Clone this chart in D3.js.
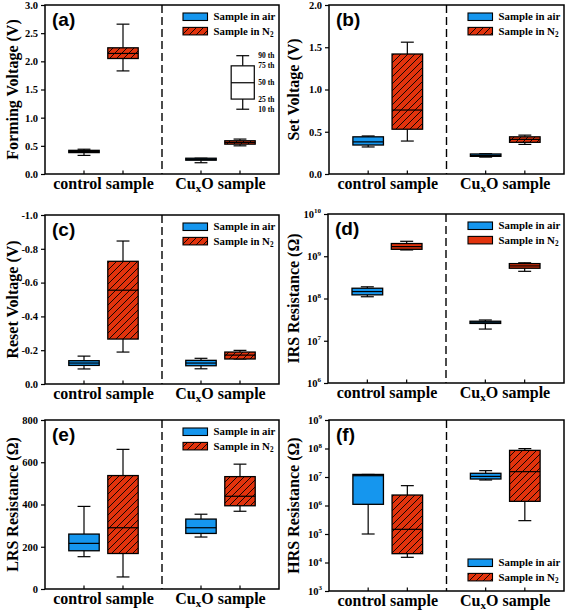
<!DOCTYPE html>
<html><head><meta charset="utf-8">
<script src="https://cdn.jsdelivr.net/npm/d3@7"></script>
<style>body{margin:0;background:#fff}</style>
</head><body>
<svg id="chart" width="567" height="612"></svg>
<script>
const categories = ["control sample", "CuxO sample"];
const seriesNames = ["Sample in air", "Sample in N2"];
// each entry: [lowerWhisker, q1, median, q3, upperWhisker]
const formingAir = [[0.33,0.38,0.40,0.42,0.44],[0.20,0.245,0.26,0.28,0.28]];
const formingN2  = [[1.83,2.05,2.14,2.24,2.66],[0.50,0.53,0.56,0.59,0.62]];
const setAir = [[0.32,0.343,0.38,0.44,0.45],[0.20,0.209,0.22,0.237,0.24]];
const setN2  = [[0.39,0.53,0.757,1.42,1.56],[0.35,0.375,0.41,0.44,0.46]];
const resetAir = [[-0.089,-0.110,-0.124,-0.138,-0.165],[-0.09,-0.108,-0.124,-0.14,-0.152]];
const resetN2  = [[-0.189,-0.266,-0.555,-0.726,-0.846],[-0.148,-0.148,-0.171,-0.189,-0.199]];
const irsAir = [[1.1e8,1.22e8,1.46e8,1.75e8,1.89e8],[1.89e7,2.57e7,2.75e7,2.9e7,3.1e7]];
const irsN2  = [[1.41e9,1.46e9,1.69e9,2.0e9,2.26e9],[4.4e8,5.2e8,5.9e8,6.7e8,7.0e8]];
const lrsAir = [[153,181,216,260,391],[246,263,290,331,354]];
const lrsN2  = [[57,168,290,537,661],[368,394,439,532,591]];
const hrsAir = [[1e5,1.1e6,1.11e7,1.23e7,1.23e7],[7.85e6,8.5e6,1.05e7,1.35e7,1.67e7]];
const hrsN2  = [[1.52e4,2.04e4,1.46e5,2.33e6,4.97e6],[2.94e5,1.4e6,1.54e7,8.6e7,9.9e7]];
// percentile key (panel a)
const keyStats = [1.15,1.33,1.62,1.92,2.10];
const keyLabels = ["10 th","25 th","50 th","75 th","90 th"];
// tick values
const ticksForming = [0,0.5,1.0,1.5,2.0,2.5,3.0];
const ticksSet = [0,0.5,1.0,1.5,2.0];
const ticksReset = [0,-0.2,-0.4,-0.6,-0.8,-1.0];
const ticksIRS = [1e6,1e7,1e8,1e9,1e10];
const ticksLRS = [0,200,400,600,800];
const ticksHRS = [1e3,1e4,1e5,1e6,1e7,1e8,1e9];

const BLUE = "#1596ee", RED = "#e2330d";
const SERIF = "'Liberation Serif','Times New Roman',serif";
const SANS = "'Liberation Sans',Arial,sans-serif";

const svg = d3.select("#chart");
const defs = svg.append("defs");
const pat = defs.append("pattern").attr("id","hatch").attr("patternUnits","userSpaceOnUse")
  .attr("width",7).attr("height",7);
pat.append("rect").attr("width",7).attr("height",7).attr("fill",RED);
pat.append("path").attr("d","M-1,1 L1,-1 M0,7 L7,0 M6,8 L8,6").attr("stroke","#000").attr("stroke-width",0.9);

const panels = [
  {id:"(a)", x0:45, x1:279, y0:5, y1:174, ylab:"Forming Voltage (V)", labx:12, air:formingAir, n2:formingN2, ticks:ticksForming, domain:[0,3], log:false, hatch:true, legend:"top", key:true},
  {id:"(b)", x0:329, x1:564, y0:5, y1:174, ylab:"Set Voltage (V)", labx:293, air:setAir, n2:setN2, ticks:ticksSet, domain:[0,2], log:false, hatch:true, legend:"top"},
  {id:"(c)", x0:45, x1:279, y0:215, y1:384, ylab:"Reset Voltage (V)", labx:12, air:resetAir, n2:resetN2, ticks:ticksReset, domain:[0,-1], log:false, hatch:true, legend:"top"},
  {id:"(d)", x0:328, x1:564, y0:214, y1:383, ylab:"IRS Resistance (Ω)", labx:293, air:irsAir, n2:irsN2, ticks:ticksIRS, domain:[1e6,1e10], log:true, hatch:false, legend:"top"},
  {id:"(e)", x0:45, x1:279, y0:420, y1:589, ylab:"LRS Resistance (Ω)", labx:12, air:lrsAir, n2:lrsN2, ticks:ticksLRS, domain:[0,800], log:false, hatch:true, legend:"top"},
  {id:"(f)", x0:329, x1:564, y0:420, y1:591, ylab:"HRS Resistance (Ω)", labx:293, air:hrsAir, n2:hrsN2, ticks:ticksHRS, domain:[1e3,1e9], log:true, hatch:true, legend:"bottom"}
];

panels.forEach(p => {
  const g = svg.append("g");
  const x = d3.scaleLinear().domain([0,6]).range([p.x0,p.x1]);
  const y = (p.log ? d3.scaleLog() : d3.scaleLinear()).domain(p.domain).range([p.y1,p.y0]);
  const bw = x(0.78)-x(0), cw = x(0.33)-x(0);
  const n2Fill = p.hatch ? "url(#hatch)" : RED;

  function drawBox(s, cx, fill) {
    const bg = g.append("g");
    const X = x(cx);
    bg.append("line").attr("x1",X).attr("x2",X).attr("y1",y(s[0])).attr("y2",y(s[1])).attr("stroke","#000").attr("stroke-width",1.2);
    bg.append("line").attr("x1",X).attr("x2",X).attr("y1",y(s[3])).attr("y2",y(s[4])).attr("stroke","#000").attr("stroke-width",1.2);
    [s[0],s[4]].forEach(v => bg.append("line").attr("x1",X-cw/2).attr("x2",X+cw/2).attr("y1",y(v)).attr("y2",y(v)).attr("stroke","#000").attr("stroke-width",1.2));
    bg.append("rect").attr("x",X-bw/2).attr("width",bw)
      .attr("y",Math.min(y(s[1]),y(s[3]))).attr("height",Math.abs(y(s[1])-y(s[3])))
      .attr("fill",fill).attr("stroke","#000").attr("stroke-width",1.3);
    bg.append("line").attr("x1",X-bw/2).attr("x2",X+bw/2).attr("y1",y(s[2])).attr("y2",y(s[2])).attr("stroke","#000").attr("stroke-width",1.2);
  }
  categories.forEach((c,i) => {
    drawBox(p.air[i], 1+3*i, BLUE);
    drawBox(p.n2[i], 2+3*i, n2Fill);
  });

  // divider
  g.append("line").attr("x1",x(3)).attr("x2",x(3)).attr("y1",p.y0).attr("y2",p.y1)
    .attr("stroke","#000").attr("stroke-width",1.4).attr("stroke-dasharray","8,4");

  // frame
  g.append("rect").attr("x",p.x0).attr("y",p.y0).attr("width",p.x1-p.x0).attr("height",p.y1-p.y0)
    .attr("fill","none").attr("stroke","#000").attr("stroke-width",1.5);

  // x ticks inward at box positions
  [1,2,4,5].forEach(v => g.append("line").attr("x1",x(v)).attr("x2",x(v)).attr("y1",p.y1).attr("y2",p.y1-3.5).attr("stroke","#000").attr("stroke-width",1.2));

  // y axis
  const yAxis = d3.axisLeft(y).tickValues(p.ticks).tickSize(4).tickPadding(3)
    .tickFormat(p.log ? () => "" : (p.domain[1] >= 100 ? (v => String(v)) : (v => (v===0 ? "0.0" : v.toFixed(1)))));
  const ag = g.append("g").attr("transform",`translate(${p.x0},0)`).call(yAxis);
  ag.select(".domain").remove();
  ag.selectAll(".tick line").attr("stroke","#000").attr("stroke-width",1.2);
  ag.selectAll(".tick text").attr("font-family",SERIF).attr("font-weight","bold").attr("font-size",10.5).attr("fill","#000");
  if (p.log) {
    ag.selectAll(".tick text").each(function(v){
      const t = d3.select(this);
      t.text("");
      t.append("tspan").text("10");
      t.append("tspan").attr("font-size",7).attr("dy",-4.5).text(String(Math.round(Math.log10(v))));
    });
  }

  // y label
  g.append("text").attr("transform",`translate(${p.labx},${(p.y0+p.y1)/2}) rotate(-90)`)
    .attr("text-anchor","middle").attr("dy","0.35em").attr("fill","#000")
    .attr("font-family",SERIF).attr("font-weight","bold").attr("font-size",16).text(p.ylab);

  // category labels
  categories.forEach((c,i) => {
    const t = g.append("text").attr("x",x(1.5+3*i)).attr("y",p.y1+15).attr("text-anchor","middle")
      .attr("font-family",SERIF).attr("font-weight","bold").attr("font-size",16).attr("fill","#000");
    if (c.startsWith("CuxO")) {
      t.append("tspan").text("Cu");
      t.append("tspan").attr("font-size",11).attr("dy",3).text("x");
      t.append("tspan").attr("dy",-3).text("O" + c.slice(4));
    } else t.text(c);
  });

  // panel label
  g.append("text").attr("x",p.x0+7).attr("y",p.y0+21).attr("font-family",SANS).attr("font-weight","bold")
    .attr("font-size",19).attr("fill","#000").text(p.id);

  // legend
  const ly = p.legend === "top" ? p.y0+8 : p.y1-32;
  const lx = p.x1-96;
  seriesNames.forEach((s,i) => {
    const yy = ly + i*14.4;
    g.append("rect").attr("x",lx).attr("y",yy).attr("width",24.5).attr("height",7.5)
      .attr("fill", i===0 ? BLUE : n2Fill).attr("stroke","#000").attr("stroke-width",1.1);
    const t = g.append("text").attr("x",lx+30.5).attr("y",yy+7.2).attr("font-family",SERIF)
      .attr("font-weight","bold").attr("font-size",10.8).attr("fill","#000");
    if (s.endsWith("N2")) {
      t.append("tspan").text("Sample in N");
      t.append("tspan").attr("font-size",7.2).attr("dy",2.5).text("2");
    } else t.text(s);
  });

  // percentile key
  if (p.key) {
    drawKey(g, x, y, 5.07, bw, cw);
  }
});

function drawKey(g, x, y, kx, bw, cw) {
  const X = x(kx), s = keyStats;
  g.append("line").attr("x1",X).attr("x2",X).attr("y1",y(s[0])).attr("y2",y(s[1])).attr("stroke","#000").attr("stroke-width",1.2);
  g.append("line").attr("x1",X).attr("x2",X).attr("y1",y(s[3])).attr("y2",y(s[4])).attr("stroke","#000").attr("stroke-width",1.2);
  [s[0],s[4]].forEach(v => g.append("line").attr("x1",X-cw/2).attr("x2",X+cw/2).attr("y1",y(v)).attr("y2",y(v)).attr("stroke","#000").attr("stroke-width",1.2));
  g.append("rect").attr("x",X-bw*0.38).attr("width",bw*0.76).attr("y",y(s[3])).attr("height",y(s[1])-y(s[3]))
    .attr("fill","#fff").attr("stroke","#000").attr("stroke-width",1.2);
  g.append("line").attr("x1",X-bw*0.38).attr("x2",X+bw*0.38).attr("y1",y(s[2])).attr("y2",y(s[2])).attr("stroke","#000").attr("stroke-width",1.2);
  keyLabels.forEach((l,i) => g.append("text").attr("x",X+bw*0.38+4).attr("y",y(s[i])).attr("dy","0.35em")
    .attr("fill","#000").attr("font-family",SERIF).attr("font-weight","bold").attr("font-size",7.5).text(l));
}
</script>
</body></html>
